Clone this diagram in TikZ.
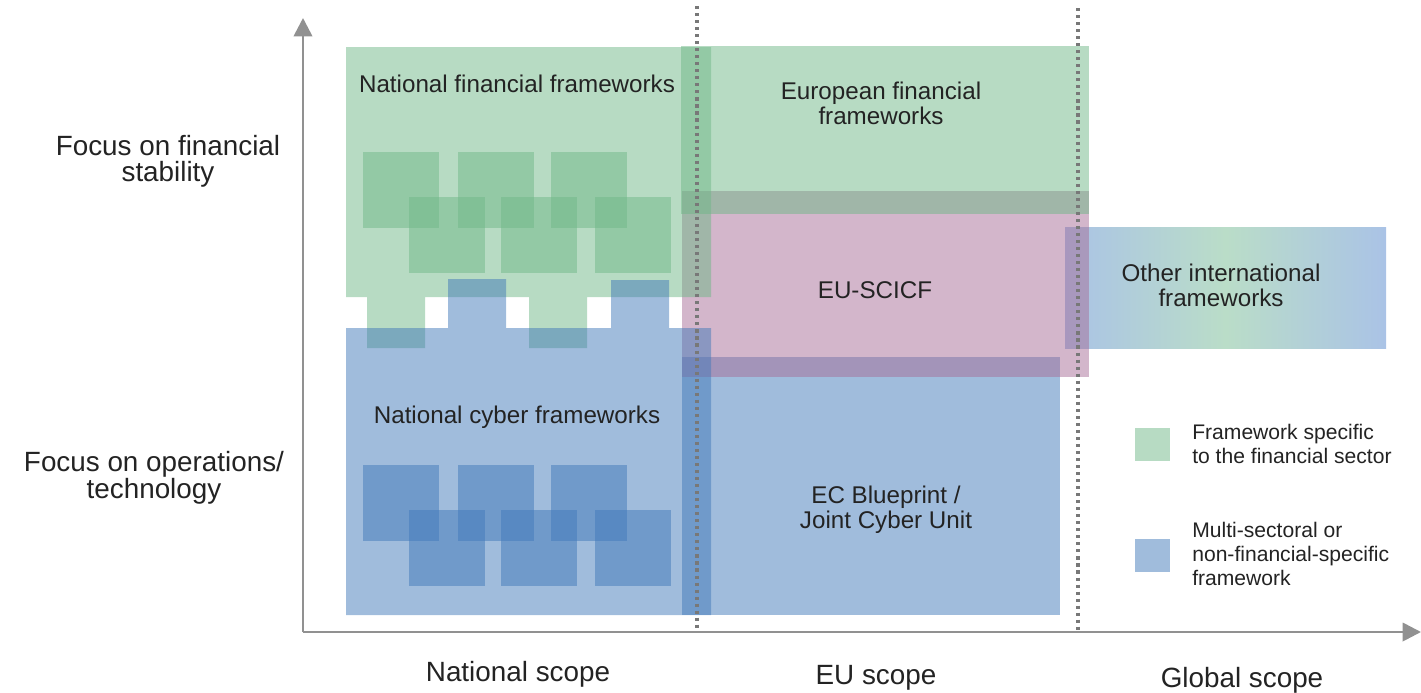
\documentclass[tikz,border=0pt]{standalone}
\usepackage{fontspec}
\setmainfont{Liberation Sans}
\usetikzlibrary{arrows.meta}

\definecolor{grnfill}{RGB}{111,183,135}
\definecolor{blufill}{RGB}{65,121,185}
\definecolor{pnkfill}{RGB}{167,109,151}
\definecolor{intblu}{RGB}{170,195,230}
\definecolor{intgrn}{RGB}{186,221,200}
\definecolor{txt}{RGB}{35,35,35}
\definecolor{axgray}{RGB}{145,145,145}
\definecolor{sepgray}{RGB}{120,120,120}

\begin{document}
\begin{tikzpicture}[x=0.025cm,y=-0.025cm,
  grn/.style={fill=grnfill,fill opacity=0.5},
  blu/.style={fill=blufill,fill opacity=0.5},
  pnk/.style={fill=pnkfill,fill opacity=0.5},
  lbl/.style={text=txt,inner sep=0pt,align=center,font=\fontsize{17.2}{17.8}\selectfont},
  axlbl/.style={lbl,font=\fontsize{19.8}{18.3}\selectfont},
  leg/.style={lbl,align=left,anchor=west,font=\fontsize{15}{17.1}\selectfont},
  axisline/.style={draw=axgray,line width=1.9pt,-{Triangle[length=13pt,width=13pt]}},
  scopeline/.style={draw=sepgray,line width=2.2pt,dash pattern=on 2.2pt off 2.8pt}]
\useasboundingbox (0,0) rectangle (1421,692);

% frameworks
\shade[left color=intblu,right color=intblu,middle color=intgrn] (1065,227) rectangle (1386,348);
\fill[blu] (682,357) rectangle (1060,615);
\fill[pnk] (682,191) rectangle (1089,377);
\fill[grn] (681,46) rectangle (1089,214);
\fill[grn] (346,47) -- (711,47) -- (711,297) -- (587,297) -- (587,348) -- (529,348)
  -- (529,297) -- (425,297) -- (425,348) -- (367,348) -- (367,297) -- (346,297) -- cycle;
\fill[blu] (346,328) -- (448,328) -- (448,279) -- (506,279) -- (506,328) -- (611,328)
  -- (611,280) -- (669,280) -- (669,328) -- (711,328) -- (711,615) -- (346,615) -- cycle;

% national squares
\foreach \y/\s in {152/grn,465/blu} {
  \foreach \x in {363,458,551}
    \fill[\s] (\x,\y) rectangle ++(76,76);
  \foreach \x in {409,501,595}
    \fill[\s] (\x,\y+45) rectangle ++(76,76);
}

% scope boundaries
\draw[scopeline] (697,6) -- (697,632);
\draw[scopeline] (1078,8) -- (1078,632);

% axis
\coordinate (origin) at (303,632);
\coordinate (ytip) at (303,18);
\coordinate (xtip) at (1421,632);
\draw[axisline] (origin) -- (ytip);
\draw[axisline] (origin) -- (xtip);

\node[lbl] (natfin) at (517,84) {National financial frameworks};
\node[lbl] (eurfin) at (881,103) {European financial\\frameworks};
\node[lbl] (scicf) at (875,290) {EU-SCICF};
\node[lbl] (othint) at (1221,285) {Other international\\frameworks};
\node[lbl] (natcyb) at (517,417) {National cyber frameworks};
\node[lbl] (ecblue) at (886,510) {EC Blueprint /\\Joint Cyber Unit};

\node[axlbl] (finstab) at (168,161) {Focus on financial\\stability};
\node[axlbl] (opstech) at (154,478) {Focus on operations/\\technology};
\node[axlbl] (natscope) at (518,674) {National scope};
\node[axlbl] (euscope) at (876,678) {EU scope};
\node[axlbl] (glscope) at (1242,680) {Global scope};

% legend
\fill[grn] (1135,428) rectangle (1170,461);
\fill[blu] (1135,539) rectangle (1170,572);
\node[leg] (legfin) at (1192,444) {Framework specific\\to the financial sector};
\node[leg] (legmulti) at (1192,554) {Multi-sectoral or\\non-financial-specific\\framework};

\end{tikzpicture}
\end{document}
